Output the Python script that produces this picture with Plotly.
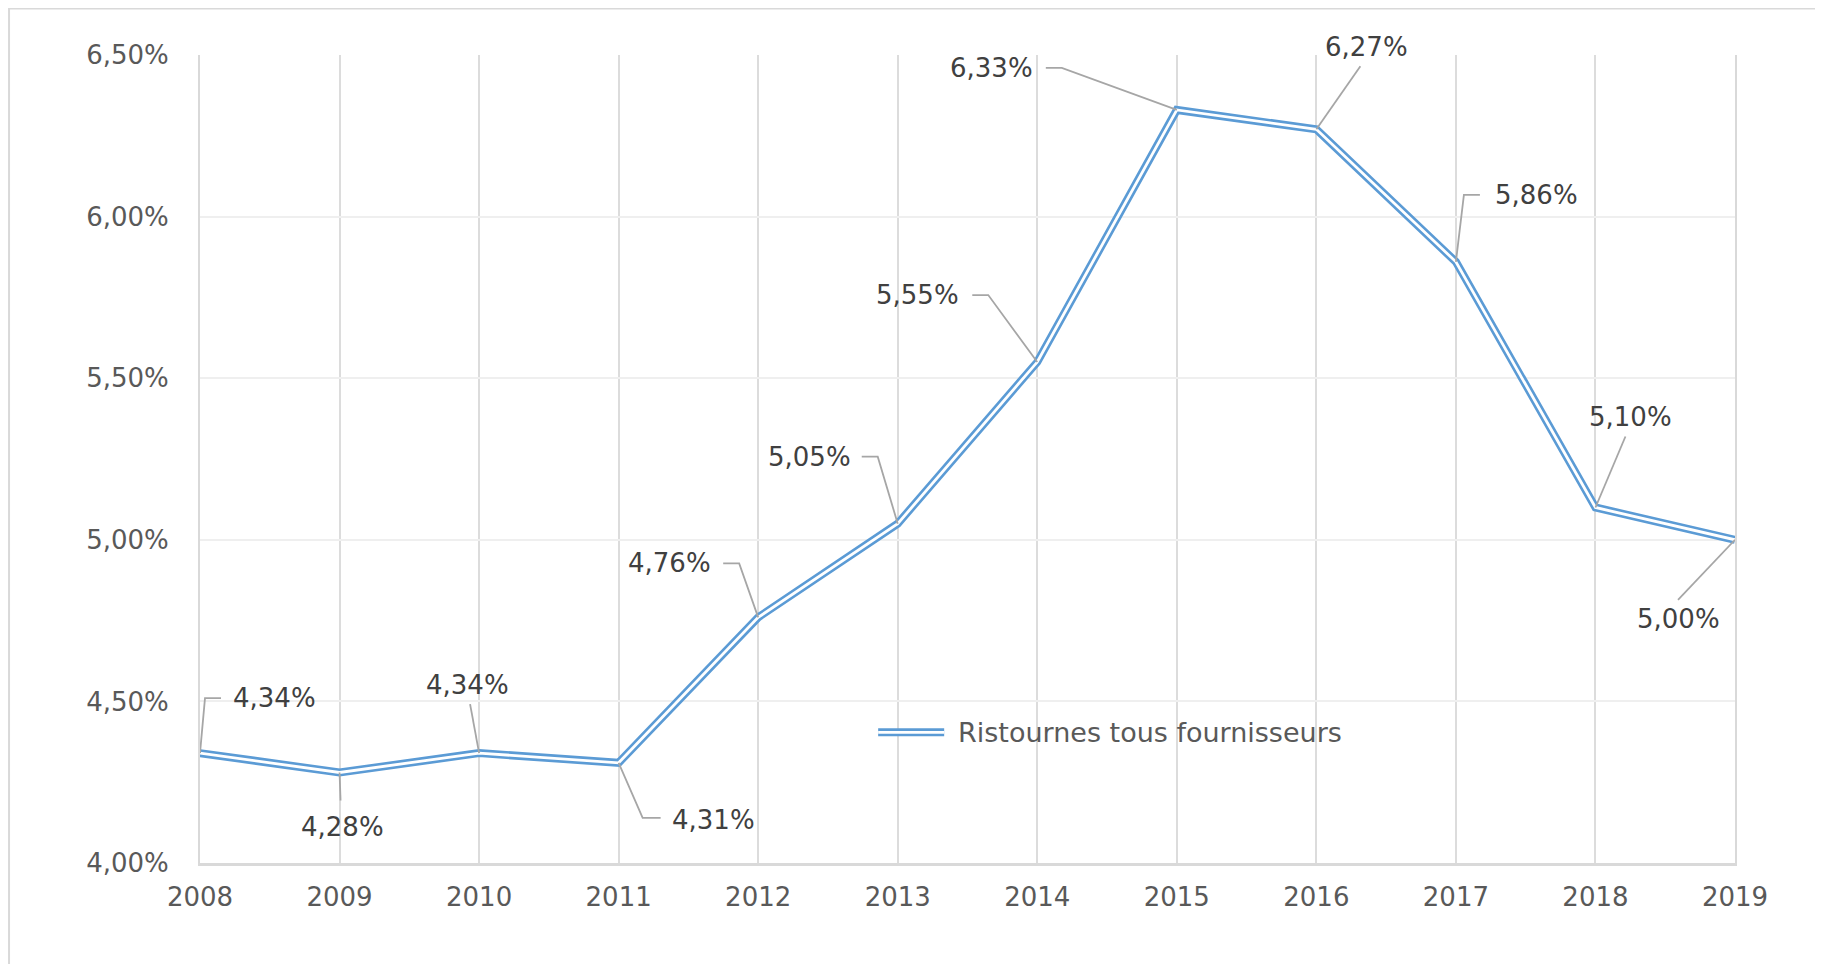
import plotly.graph_objects as go

# ---- data ----
years = [2008, 2009, 2010, 2011, 2012, 2013, 2014, 2015, 2016, 2017, 2018, 2019]
ristournes = [4.34, 4.28, 4.34, 4.31, 4.76, 5.05, 5.55, 6.33, 6.27, 5.86, 5.10, 5.00]
series_name = "Ristournes tous fournisseurs"
y_tickvals = [4.0, 4.5, 5.0, 5.5, 6.0, 6.5]
y_ticktext = ["4,00%", "4,50%", "5,00%", "5,50%", "6,00%", "6,50%"]
x_ticktext = [str(y) for y in years]

# ---- label leader styling (pixel offsets from each point: leader path, text centre) ----
leader_paths = [
    [(0, 0), (5, 55), (21, 55)],
    [(0, 0), (1, -28)],
    [(0, 0), (-9, 49)],
    [(0, 0), (24, -55), (42, -55)],
    [(0, 0), (-19, 54), (-35, 54)],
    [(0, 0), (-20, 67), (-36, 67)],
    [(0, 0), (-49, 67), (-65, 67)],
    [(0, 0), (-115, 42), (-131, 42)],
    [(0, 0), (44, 63)],
    [(0, 0), (8, 67), (24, 67)],
    [(0, 0), (30, 71)],
    [(0, 0), (-57, -60)],
]
text_offsets = [(74, 55), (3, -54), (-12, 68), (95, -57), (-89, 54), (-88, 67),
                (-120, 67), (-185, 42), (50, 82), (81, 67), (35, 90), (-57, -79)]

BLUE = "#5b9bd5"
FONT = "DejaVu Sans"
FS = 26

fig = go.Figure()
fig.add_trace(go.Scatter(x=years, y=ristournes, mode="lines", name=series_name,
                         line=dict(color=BLUE, width=8), showlegend=False,
                         hoverinfo="skip"))
fig.add_trace(go.Scatter(x=years, y=ristournes, mode="lines", name=series_name,
                         line=dict(color="white", width=2.8), showlegend=False,
                         hoverinfo="skip"))

shapes = []
annotations = []
for yr, v, path, toff in zip(years, ristournes, leader_paths, text_offsets):
    d = "M" + " L".join(f"{px},{py}" for px, py in path)
    shapes.append(dict(type="path", path=d, xref="x", yref="y",
                       xsizemode="pixel", ysizemode="pixel",
                       xanchor=yr, yanchor=v,
                       line=dict(color="#a6a6a6", width=1.8), layer="above"))
    annotations.append(dict(x=yr, y=v, xref="x", yref="y",
                            text=f"{v:.2f}%".replace(".", ","),
                            showarrow=False, xshift=toff[0], yshift=toff[1],
                            font=dict(family=FONT, size=FS, color="#404040")))

# outer chart border
shapes.append(dict(type="rect", xref="paper", yref="paper",
                   x0=-0.1244, x1=1.08, y0=-0.16, y1=1.0575,
                   line=dict(color="#d9d9d9", width=2), fillcolor="rgba(0,0,0,0)",
                   layer="below"))

# manual legend (double line)
shapes.append(dict(type="line", xref="paper", yref="paper", x0=0.4418, x1=0.4848,
                   y0=0.1617, y1=0.1617, line=dict(color=BLUE, width=8)))
shapes.append(dict(type="line", xref="paper", yref="paper", x0=0.4418, x1=0.4848,
                   y0=0.1617, y1=0.1617, line=dict(color="white", width=2.8)))
annotations.append(dict(x=0.4924, y=0.1617, xref="paper", yref="paper",
                        xanchor="left", yanchor="middle", showarrow=False,
                        text=series_name,
                        font=dict(family=FONT, size=27, color="#595959")))

fig.update_layout(
    width=1823, height=964,
    margin=dict(l=192, r=96, t=47, b=109),
    paper_bgcolor="white", plot_bgcolor="white",
    shapes=shapes, annotations=annotations,
    showlegend=False,
    font=dict(family=FONT, size=FS, color="#595959"),
)
fig.update_xaxes(range=[2008, 2019], tickmode="array", tickvals=years,
                 ticktext=x_ticktext, showgrid=True, gridcolor="#dcdcdc",
                 gridwidth=2, showline=True, linecolor="#d9d9d9", linewidth=2.5,
                 zeroline=False, ticks="", ticklabelstandoff=9,
                 tickfont=dict(family=FONT, size=FS, color="#595959"))
fig.update_yaxes(range=[4.0, 6.5], tickmode="array", tickvals=y_tickvals,
                 ticktext=y_ticktext, showgrid=True, gridcolor="#efefef",
                 gridwidth=1.5, showline=True, mirror=True, linecolor="#d9d9d9",
                 linewidth=2, zeroline=False, ticks="", ticklabelstandoff=24,
                 tickfont=dict(family=FONT, size=FS, color="#595959"))

fig.write_html("out.html")
